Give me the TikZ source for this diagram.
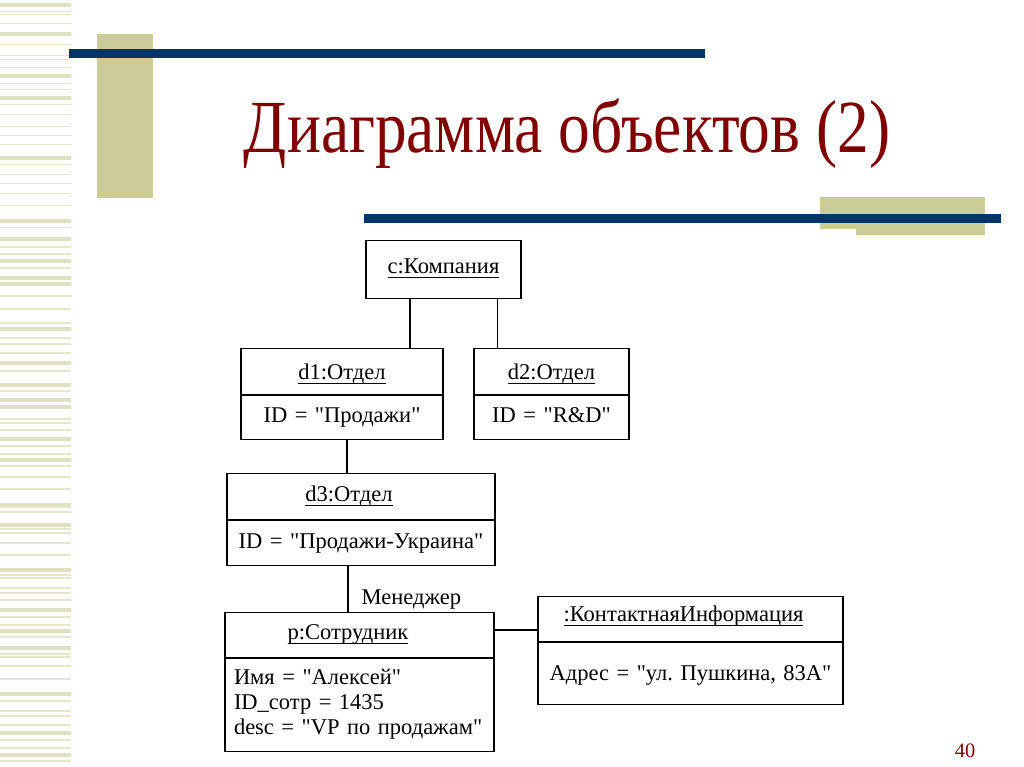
\documentclass[tikz,border=0pt]{standalone}
\usepackage{fontspec}
\setmainfont{Liberation Serif}[Ligatures=TeXOff]
\usepackage{graphicx}
\usepackage{tikz}
\usetikzlibrary{positioning, shapes.multipart, calc}
\definecolor{slidekhaki}{RGB}{204,204,153}
\definecolor{slideblue}{RGB}{0,51,102}
\definecolor{slidered}{RGB}{128,0,0}
\frenchspacing
\newcommand\objfont{\fontsize{22.5}{25}\selectfont}
\newcommand\objstrut[2]{\rule[-#2]{0pt}{\dimexpr#1+#2\relax}}
\newcommand\objname[1]{\setbox0\hbox{#1}\rlap{\rule[-4.5pt]{\wd0}{1.2pt}}\box0}
\tikzset{
  % --- slide decoration ---
  khakibar/.style={fill=slidekhaki, draw=none},
  bluebar/.style={fill=slideblue, draw=none},
  thickstripe/.style={fill=slidekhaki!60, draw=none},
  thinstripe/.style={fill=slidekhaki!50, draw=none},
  % --- UML object boxes ---
  objbox/.style={draw, rectangle split, rectangle split parts=2, fill=white,
    font=\objfont, align=center, inner xsep=6pt, inner ysep=0pt,
    line width=1.3pt, anchor=north},
  objsingle/.style={draw, fill=white, font=\objfont, align=center,
    inner xsep=6pt, inner ysep=0pt, line width=1.3pt, anchor=north},
  % --- links ---
  objlink/.style={line width=1.3pt},
  rolelabel/.style={font=\objfont, inner sep=0pt},
}

\begin{document}
\begin{tikzpicture}[x=1pt, y=-1pt]
    \fill[white] (0,0) rectangle (1024,767);
    \useasboundingbox (0,0) rectangle (1024,767);
    % ---- Left stripes ----
    \foreach \s in {3,32,74,96,156,219,237,259,276,282,327,361,383,398,405,437,
      458,503,523,568,608,629,646,692,731,753}{ \fill[thickstripe] (0,\s) rectangle (71,\s+4); }
    \foreach \s in {11,14,23,44,55,59,67,83,89,104,114,126,135,144,164,174,183,193,
      205,227,246,253,267,295,308,322,337,343,352,370,390,418,422,429,445,453,465,
      476,488,506,511,528,532,542,554,574,577,587,592,599,616,624,636,653,656,665,
      678,700,710,715,724,739,747,760}{ \fill[thinstripe] (0,\s) rectangle (71,\s+1.5); }
    % ---- Title bars ----
    \fill[khakibar] (97,34) rectangle (153,198);
    \fill[bluebar] (69,49) rectangle (705,58);
    \fill[khakibar] (820,197) rectangle (985,229);
    \fill[khakibar] (856,197) rectangle (985,235);
    \fill[bluebar] (364,214) rectangle (1001,223);
    % ---- Title and page number ----
    \node[font=\fontsize{75}{80}\selectfont, text=slidered, anchor=base, inner sep=0pt]
      (title) at (567,153) {\scalebox{0.845}[1]{Диаграмма объектов (2)}};
    \node[font=\fontsize{20.5}{22}\selectfont, text=slidered, anchor=base, inner sep=0pt]
      (pagenum) at (965,757) {40};
    % ---- Objects ----
    \node[objsingle, minimum width=155pt] (comp) at (443.5,240)
      {\objstrut{33pt}{25pt}\objname{c:Компания}};
    \node[objbox, text width=190pt] (d1) at (342,348)
      {\objstrut{30pt}{15pt}\objname{d1:Отдел}
       \nodepart{two}\objstrut{27pt}{16pt}ID = "Продажи"};
    \node[objbox, text width=143pt] (d2) at (551.5,348)
      {\objstrut{30pt}{15pt}\objname{d2:Отдел}
       \nodepart{two}\objstrut{27pt}{16pt}ID = "R\&D"};
    \node[objbox, text width=256pt] (d3) at (361,473)
      {\objstrut{27pt}{18pt}\objname{d3:Отдел}\kern24pt
       \nodepart{two}\objstrut{28pt}{16pt}ID = "Продажи-Украина"};
    \node[objbox, text width=251pt, inner xsep=9pt, align=left] (emp) at (359.5,612)
      {\centering\objstrut{26pt}{18pt}\objname{p:Сотрудник}\kern23pt\par
       \nodepart{two}\objstrut{26pt}{0pt}Имя = "Алексей"\\
       ID\_сотр = 1435\\
       desc = "VP по продажам"\objstrut{0pt}{16pt}};
    \node[objbox, text width=293pt] (contact) at (690.5,596)
      {\objstrut{24pt}{20pt}\objname{:КонтактнаяИнформация}\kern14pt
       \nodepart{two}\objstrut{38pt}{23pt}Адрес = "ул. Пушкина, 83А"};
    % ---- Links ----
    \coordinate (compL) at ([xshift=44.5pt]comp.south west);
    \coordinate (compR) at ([xshift=-24pt]comp.south east);
    \coordinate (d1B) at ([xshift=5pt]d1.south);
    \coordinate (d3B) at ([xshift=-13pt]d3.south);
    \coordinate (empR) at ([yshift=-18pt]emp.north east);
    \draw[objlink] (compL) -- (compL |- d1.north);
    \draw[objlink] (compR) -- (compR |- d2.north);
    \draw[objlink] (d1B) -- (d1B |- d3.north);
    \draw[objlink] (d3B) -- (d3B |- emp.north)
      node[rolelabel, pos=0.72, anchor=west, xshift=13pt] {Менеджер};
    \draw[objlink] (empR) -- (empR -| contact.west);
\end{tikzpicture}
\end{document}
